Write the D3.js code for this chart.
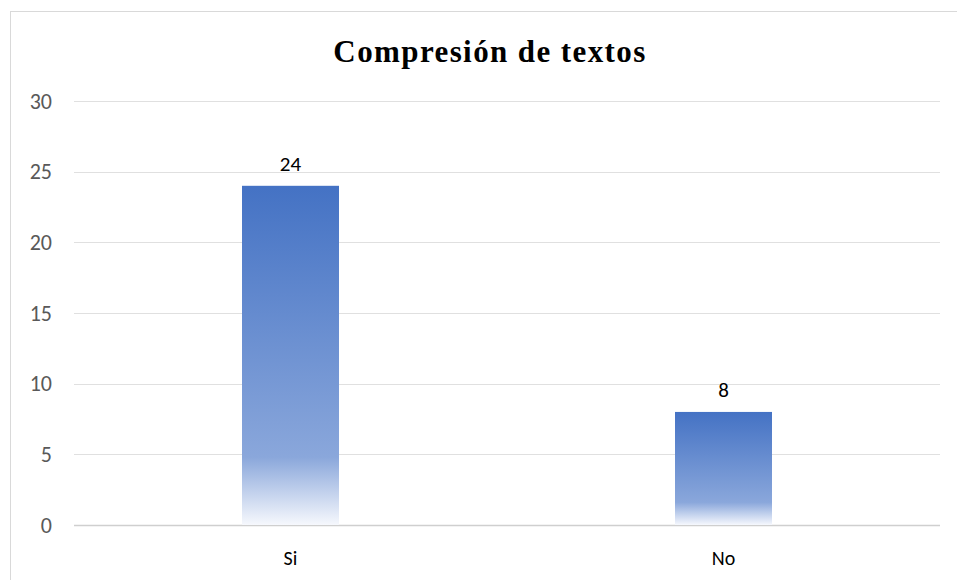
<!DOCTYPE html>
<html lang="es">
<head>
  <meta charset="UTF-8" />
  <title>Compresión de textos</title>
  <script src="https://d3js.org/d3.v7.min.js"></script>
  <style>
    body { margin: 0; background: #fff; }
    .tick-label { font-family: Carlito, Lato, "Open Sans", sans-serif; font-size: 22px; fill: #595959; }
    .cat-label { font-family: Carlito, Lato, "Open Sans", sans-serif; font-size: 20px; fill: #000; }
    .data-label { font-family: Carlito, Lato, "Open Sans", sans-serif; font-size: 21px; fill: #000; }
    .title { font-family: "Liberation Serif", "DejaVu Serif", serif; font-size: 31px; font-weight: bold; fill: #000; letter-spacing: 1.4px; }
  </style>
</head>
<body>
  <svg width="957" height="580"></svg>

  <script>
    const categories = ['Si', 'No'];
    const values = [24, 8];
    const yTicks = [0, 5, 10, 15, 20, 25, 30];

    const plotLeft = 74, plotRight = 940, plotTop = 101, plotBottom = 525;

    const svg = d3.select("svg");

    // chart frame
    svg.append("rect")
      .attr("x", 10.5).attr("y", 11.5)
      .attr("width", 960).attr("height", 600)
      .attr("fill", "none").attr("stroke", "#d9d9d9");

    const defs = svg.append("defs");
    const grad = defs.append("linearGradient")
      .attr("id", "barGrad")
      .attr("x1", 0).attr("y1", 0).attr("x2", 0).attr("y2", 1);
    grad.append("stop").attr("offset", "0%").attr("stop-color", "#4472c4");
    grad.append("stop").attr("offset", "80%").attr("stop-color", "#8aa7db");
    grad.append("stop").attr("offset", "100%").attr("stop-color", "#f6f8fd");

    const x = d3.scaleBand()
      .domain(categories)
      .range([plotLeft, plotRight])
      .paddingInner(0.776)
      .paddingOuter(0.388);

    const y = d3.scaleLinear()
      .domain([0, 30])
      .range([plotBottom, plotTop]);

    // gridlines
    svg.append("g").selectAll("line")
      .data(yTicks)
      .enter().append("line")
      .attr("x1", plotLeft).attr("x2", plotRight)
      .attr("y1", d => Math.round(y(d)) + 0.5)
      .attr("y2", d => Math.round(y(d)) + 0.5)
      .attr("stroke", d => d === 0 ? "#cfcfcf" : "#e0e0e0")
      .attr("stroke-width", d => d === 0 ? 1.5 : 1);

    svg.append("g").selectAll("text")
      .data(yTicks)
      .enter().append("text")
      .attr("class", "tick-label")
      .attr("x", 52)
      .attr("y", d => y(d))
      .attr("dy", "0.35em")
      .attr("text-anchor", "end")
      .text(d => d);

    // bars
    svg.append("g").selectAll("rect")
      .data(values)
      .enter().append("rect")
      .attr("x", (d, i) => x(categories[i]))
      .attr("y", d => y(d))
      .attr("width", x.bandwidth())
      .attr("height", d => y(0) - y(d))
      .attr("fill", "url(#barGrad)");

    svg.append("g").selectAll("text")
      .data(values)
      .enter().append("text")
      .attr("class", "data-label")
      .attr("x", (d, i) => x(categories[i]) + x.bandwidth() / 2)
      .attr("y", d => y(d) - 15)
      .attr("text-anchor", "middle")
      .text(d => d);

    svg.append("g").selectAll("text")
      .data(categories)
      .enter().append("text")
      .attr("class", "cat-label")
      .attr("x", d => x(d) + x.bandwidth() / 2)
      .attr("y", 565)
      .attr("text-anchor", "middle")
      .text(d => d);

    svg.append("text")
      .attr("class", "title")
      .attr("x", 490)
      .attr("y", 62)
      .attr("text-anchor", "middle")
      .text("Compresión de textos");
  </script>
</body>
</html>
